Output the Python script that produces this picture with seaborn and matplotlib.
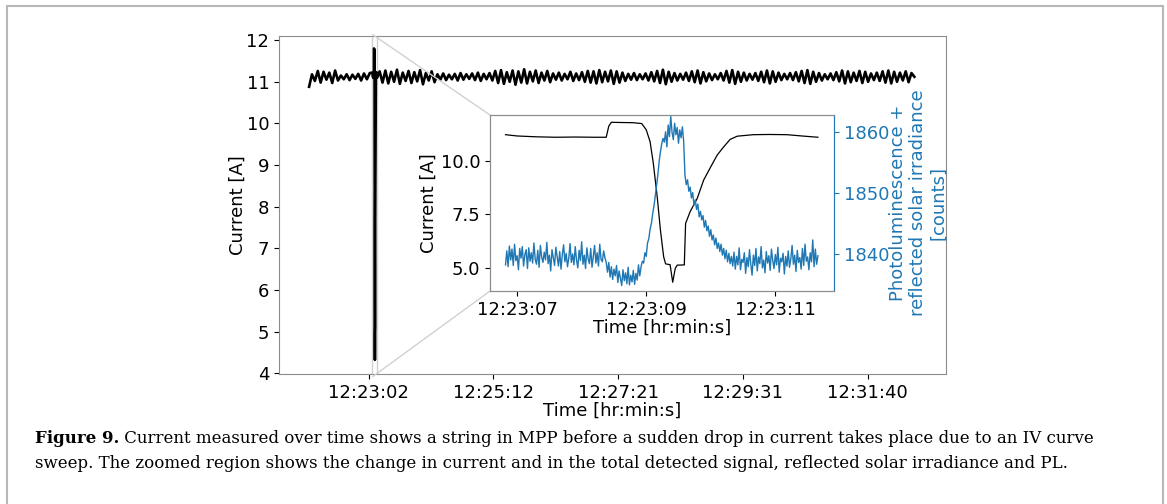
import numpy as np
import matplotlib
matplotlib.use("Agg")
import matplotlib.pyplot as plt
import seaborn as sns
from matplotlib.patches import Rectangle
from mpl_toolkits.axes_grid1.inset_locator import mark_inset

# ---------- DATA (time = seconds after 12:00:00) ---------- #
before_start, before_step = 1321.1, 3.0
current_before = [10.88, 11.18, 11.02, 11.26, 10.98, 11.24, 11.05, 11.22, 10.97, 11.27, 11.03,
                  11.15, 11.06, 11.18, 11.04, 11.17, 11.07, 11.19, 11.03, 11.2, 11.06, 11.21]

after_start, after_step = 1394.3, 3.0
current_after = [
    11.25, 10.98, 11.27, 10.96, 11.24, 11.0, 11.29, 10.95, 11.22, 11.02, 11.26, 10.97, 11.23, 11.01, 11.28, 10.94, 11.21, 11.03, 11.25, 10.99,
    11.18, 11.05, 11.2, 11.04, 11.17, 11.06, 11.19, 11.03, 11.21, 11.05, 11.18, 11.07, 11.2, 11.04, 11.22, 11.02, 11.19, 11.06, 11.21, 11.03,
    11.26, 10.97, 11.28, 10.95, 11.23, 11.0, 11.27, 10.93, 11.25, 10.98, 11.3, 10.96, 11.24, 11.01, 11.27, 10.97, 11.22, 11.03, 11.26, 10.99,
    11.2, 11.05, 11.22, 11.03, 11.19, 11.06, 11.24, 11.02, 11.2, 11.04, 11.23, 11.0, 11.26, 10.98, 11.25, 10.96, 11.28, 10.99, 11.24, 11.01,
    11.27, 10.95, 11.25, 10.98, 11.22, 11.02, 11.19, 11.05, 11.21, 11.04, 11.18, 11.06, 11.2, 11.03, 11.23, 11.01, 11.26, 10.97, 11.29, 10.94,
    11.24, 11.0, 11.21, 11.03, 11.19, 11.05, 11.22, 11.02, 11.25, 10.99, 11.27, 10.96, 11.23, 11.01, 11.2, 11.04, 11.18, 11.06, 11.21, 11.03,
    11.26, 10.98, 11.28, 10.95, 11.24, 11.0, 11.22, 11.03, 11.19, 11.05, 11.21, 11.02, 11.24, 10.99, 11.27, 10.96, 11.25, 11.0, 11.22, 11.04,
    11.19, 11.06, 11.21, 11.04, 11.23, 11.01, 11.26, 10.97, 11.28, 10.95, 11.24, 11.0, 11.21, 11.03, 11.18, 11.06, 11.2, 11.04, 11.23, 11.01,
    11.27, 10.96, 11.25, 10.99, 11.22, 11.02, 11.26, 10.97, 11.24, 11.0, 11.2, 11.04, 11.22, 11.02, 11.25, 10.98, 11.27, 10.96, 11.24, 11.0,
    11.22, 11.03, 11.25, 10.99, 11.21, 11.12]

# IV sweep (zoomed region)
zoom_t = [1386.82, 1387.0, 1387.3, 1387.6, 1387.9, 1388.2, 1388.38, 1388.42, 1388.46, 1388.6,
          1388.8, 1388.93, 1389.0, 1389.06, 1389.11, 1389.17, 1389.22, 1389.27, 1389.30, 1389.37,
          1389.41, 1389.45, 1389.48, 1389.59, 1389.61, 1389.68, 1389.79, 1389.89, 1390.0, 1390.1,
          1390.2, 1390.3, 1390.41, 1390.66, 1390.9, 1391.18, 1391.45, 1391.66]
zoom_current = [11.22, 11.16, 11.12, 11.1, 11.11, 11.1, 11.1, 11.62, 11.8, 11.79,
                11.78, 11.74, 11.45, 10.89, 9.88, 8.32, 6.76, 5.51, 5.18, 5.14,
                4.32, 4.97, 5.12, 5.13, 7.07, 7.62, 8.24, 9.1, 9.72, 10.27,
                10.65, 11.0, 11.15, 11.22, 11.23, 11.22, 11.15, 11.1]

pl_start, pl_step = 1386.82, 0.02
pl_counts = [
    1838.2, 1840.5, 1837.9, 1841.3, 1839.0, 1840.8, 1838.1, 1841.6, 1838.9, 1839.7,
    1837.4, 1840.9, 1839.3, 1841.2, 1838.0, 1839.9, 1840.7, 1837.6, 1841.0, 1838.8,
    1840.2, 1838.5, 1841.8, 1839.1, 1838.3, 1840.6, 1837.8, 1841.4, 1839.5, 1838.6,
    1840.3, 1839.0, 1841.9, 1838.4, 1839.8, 1837.2, 1840.7, 1839.4, 1838.1, 1841.1,
    1839.6, 1838.0, 1840.4, 1837.5, 1839.9, 1841.5, 1838.7, 1840.1, 1837.9, 1839.3,
    1841.7, 1838.6, 1840.0, 1838.2, 1841.2, 1839.0, 1837.7, 1840.6, 1838.9, 1842.0,
    1838.3, 1839.8, 1837.6, 1841.0, 1839.2, 1838.4, 1840.9, 1837.8, 1839.6, 1841.4,
    1838.5, 1840.2, 1838.0, 1841.6, 1839.1, 1838.7, 1840.5, 1839.4, 1838.6,
    1837.0, 1838.6, 1836.2, 1837.9, 1835.8, 1837.5, 1836.4, 1838.1, 1835.3, 1837.2,
    1836.0, 1834.8, 1837.4, 1835.6, 1836.9, 1835.1, 1837.8, 1834.9, 1836.5, 1835.4,
    1837.3, 1835.0, 1836.8, 1835.7, 1838.2, 1836.4, 1837.9, 1838.8,
    1838.5, 1840.2, 1839.6, 1841.8, 1842.5, 1844.1, 1845.0, 1846.6, 1847.9, 1849.5,
    1851.3, 1853.0, 1855.2, 1856.8, 1858.1, 1859.0,
    1858.4, 1860.1, 1857.6, 1861.2, 1859.3, 1862.6, 1860.0, 1858.8, 1861.5, 1859.6,
    1860.8, 1858.2, 1860.4, 1859.1, 1860.9, 1858.5,
    1853.0, 1851.4, 1852.2, 1850.3, 1851.0, 1849.2, 1850.1, 1848.0, 1848.9, 1847.3,
    1848.2, 1846.1, 1847.0, 1845.6, 1846.3, 1844.4, 1845.5, 1843.8, 1844.6, 1842.9,
    1844.0, 1842.3, 1843.1, 1841.5, 1842.6, 1840.9, 1841.8, 1840.4, 1841.6, 1839.8,
    1840.9, 1839.2, 1840.6, 1838.7, 1840.1, 1838.4, 1839.6,
    1838.0, 1840.3, 1837.5, 1839.6, 1838.2, 1841.0, 1837.4, 1839.1, 1838.6, 1840.2,
    1836.8, 1839.4, 1837.9, 1840.7, 1838.3, 1836.5, 1839.8, 1838.1, 1840.9, 1837.2,
    1839.5, 1838.4, 1841.2, 1837.7, 1839.0, 1836.9, 1840.4, 1838.5, 1839.7, 1837.3,
    1840.8, 1838.9, 1837.6, 1839.9, 1838.2, 1841.1, 1837.0, 1839.3, 1838.7, 1840.1,
    1836.7, 1839.6, 1838.0, 1840.5, 1837.8, 1839.2, 1841.4, 1838.3, 1839.8, 1837.1,
    1840.6, 1838.6, 1839.4, 1837.5, 1840.9, 1838.1, 1841.6, 1838.8, 1839.5, 1837.4,
    1840.2, 1838.7, 1842.3, 1837.9, 1840.8, 1838.3, 1839.7]

main_ticks = [1382.8, 1512.3, 1641.8, 1771.3, 1900.8]
main_tick_labels = ["12:23:02", "12:25:12", "12:27:21", "12:29:31", "12:31:40"]
zoom_ticks = [1387, 1389, 1391]
zoom_tick_labels = ["12:23:07", "12:23:09", "12:23:11"]

caption_bold = "Figure 9."
caption_line1 = " Current measured over time shows a string in MPP before a sudden drop in current takes place due to an IV curve"
caption_line2 = "sweep. The zoomed region shows the change in current and in the total detected signal, reflected solar irradiance and PL."
# ----------------------------------------------------------- #

blue = "#1f77b4"
fs = 13

t_before = before_start + before_step * np.arange(len(current_before))
t_after = after_start + after_step * np.arange(len(current_after))
main_t = np.concatenate([t_before, zoom_t, t_after])
main_current = np.concatenate([current_before, zoom_current, current_after])
pl_t = pl_start + pl_step * np.arange(len(pl_counts))

fig = plt.figure(figsize=(11.67, 5.04), dpi=100)
fig.patches.append(Rectangle((7 / 1167, -0.1), 1156 / 1167, 1.1 - 6 / 504, transform=fig.transFigure,
                             fill=False, ec="0.72", lw=1.5))

# main axes
ax = fig.add_axes([0.2391, 0.2579, 0.5715, 0.6707])
sns.lineplot(x=main_t, y=main_current, ax=ax, color="black", lw=1.9, estimator=None, sort=False)
ax.set_xlim(1289.9, 1982.1)
ax.set_ylim(3.98, 12.1)
ax.set_yticks(range(4, 13))
ax.set_xticks(main_ticks, main_tick_labels)
ax.set_xlabel("Time [hr:min:s]", fontsize=fs, labelpad=0)
ax.set_ylabel("Current [A]", fontsize=fs, labelpad=0)
ax.tick_params(labelsize=fs)
for s in ax.spines.values():
    s.set_color("0.55")

# inset
axins = fig.add_axes([0.4199, 0.4226, 0.2948, 0.3492])
sns.lineplot(x=zoom_t, y=zoom_current, ax=axins, color="black", lw=0.9, estimator=None, sort=False)
axins.set_xlim(1386.58, 1391.91)
axins.set_ylim(3.91, 12.14)
axins.set_yticks([5.0, 7.5, 10.0], ["5.0", "7.5", "10.0"])
axins.set_xticks(zoom_ticks, zoom_tick_labels)
axins.set_xlabel("Time [hr:min:s]", fontsize=fs, labelpad=0)
axins.set_ylabel("Current [A]", fontsize=fs, labelpad=2)
axins.tick_params(labelsize=fs)

ax2 = axins.twinx()
sns.lineplot(x=pl_t, y=pl_counts, ax=ax2, color=blue, lw=1.0, estimator=None, sort=False)
ax2.set_ylim(1833.9, 1862.85)
ax2.set_yticks([1840, 1850, 1860])
ax2.tick_params(axis="y", colors=blue, labelsize=fs)
ax2.set_ylabel("Photoluminescence +\nreflected solar irradiance\n[counts]", color=blue, fontsize=fs,
               labelpad=0, linespacing=1.15)
for s in list(axins.spines.values()) + list(ax2.spines.values()):
    s.set_color("0.55")
ax2.spines["right"].set_color(blue)

mark_inset(ax, axins, loc1=2, loc2=3, fc="none", ec="0.82", lw=1.0)

# caption
cap_fs = 12.0
y1, y2 = 1 - 443 / 504, 1 - 468 / 504
b = fig.text(35 / 1167, y1, caption_bold, fontsize=cap_fs, family="DejaVu Serif",
             weight="bold", va="baseline")
fig.canvas.draw()
bb = b.get_window_extent().transformed(fig.transFigure.inverted())
fig.text(bb.x1, y1, caption_line1, fontsize=cap_fs, family="DejaVu Serif", va="baseline")
fig.text(35 / 1167, y2, caption_line2, fontsize=cap_fs, family="DejaVu Serif", va="baseline")

fig.savefig("out.png", dpi=100)
